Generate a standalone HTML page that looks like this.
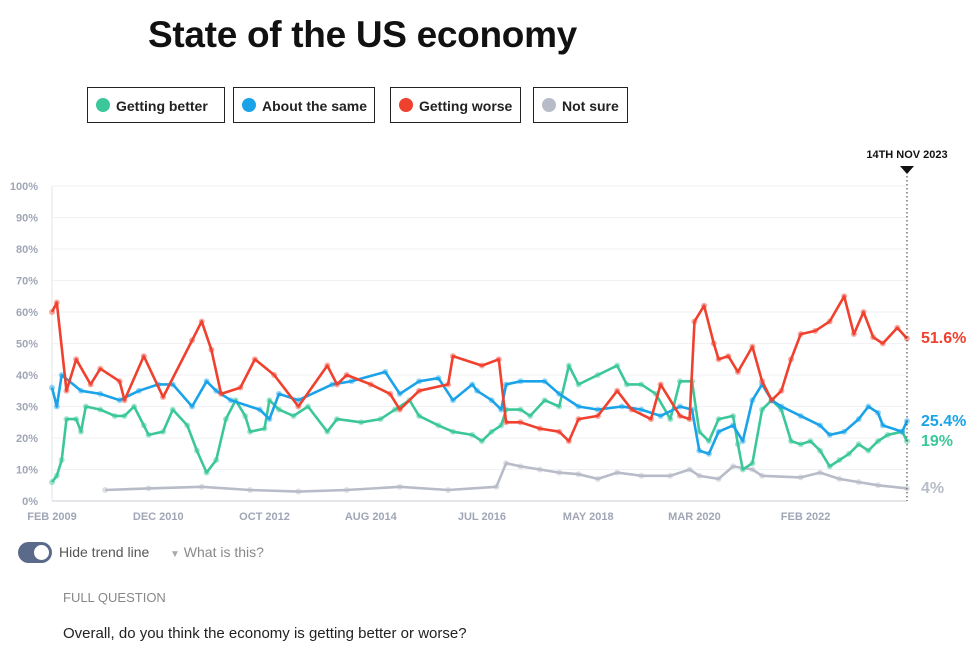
<!DOCTYPE html>
<html><head><meta charset="utf-8"><style>
body{margin:0;background:#fff;font-family:"Liberation Sans",Arial,sans-serif}
#wrap{position:relative;width:980px;height:651px;overflow:hidden}
.title{position:absolute;left:148px;top:14px;font-size:37px;font-weight:bold;color:#111;letter-spacing:-0.3px}
.leg{position:absolute;top:87px;height:36px;border:1px solid #222;box-sizing:border-box;font-size:14px;font-weight:bold;color:#222;line-height:36px;padding-left:28px}
.leg i{position:absolute;left:8px;top:10px;width:14px;height:14px;border-radius:50%}
</style></head><body>
<div id="wrap">
<div class="title">State of the US economy</div>
<div class="leg" style="left:87px;width:138px"><i style="background:#3cc79a"></i>Getting better</div>
<div class="leg" style="left:233px;width:142px"><i style="background:#1aa3e8"></i>About the same</div>
<div class="leg" style="left:390px;width:131px"><i style="background:#f0402e"></i>Getting worse</div>
<div class="leg" style="left:533px;width:95px"><i style="background:#b8bcc8"></i>Not sure</div>
<svg id="chart" width="980" height="651" style="position:absolute;left:0;top:0"></svg>
<div style="position:absolute;left:18px;top:542px;width:34px;height:21px;border-radius:11px;background:#5b6a8a"><div style="position:absolute;right:3px;top:3px;width:15px;height:15px;border-radius:50%;background:#fff"></div></div>
<div style="position:absolute;left:59px;top:544px;font-size:14px;color:#555">Hide trend line</div>
<div style="position:absolute;left:170px;top:544px;font-size:14px;color:#888"><span style="font-size:10px;color:#aaa">▼</span> What is this?</div>
<div style="position:absolute;left:63px;top:590px;font-size:13px;color:#888">FULL QUESTION</div>
<div style="position:absolute;left:63px;top:625px;font-size:15px;color:#222">Overall, do you think the economy is getting better or worse?</div>
</div>
<script>
const yTicks=[0,10,20,30,40,50,60,70,80,90,100];
const xTickMonths=[0,22,44,66,89,111,133,156];
const xTickLabels=["FEB 2009","DEC 2010","OCT 2012","AUG 2014","JUL 2016","MAY 2018","MAR 2020","FEB 2022"];
const redMonths=[0,1,3,5,8,10,14,15,19,23,29,31,33,35,39,42,46,51,57,59,61,66,70,72,76,82,83,89,92.5,94,97,101,105,107,109,113,117,120,124,126,130,132,133,135,137,138,140,142,145,147,149,151,153,155,158,161,164,166,168,170,172,175,177];
const redValues=[60,63,35,45,37,42,38,32,46,33,51,57,48,34,36,45,40,30,43,37,40,37,34,29,35,37,46,43,45,25,25,23,22,19,26,27,35,29,26,37,27,26,57,62,50,45,46,41,49,38,32,35,45,53,54,57,65,53,60,52,50,55,51.6];
const blueMonths=[0,1,2,6,10,14,18,22,25,29,32,34,37,43,45,47,51,58,62,69,72,76,80,83,87,88,91,93,94,97,102,105,109,113,118,122,126,130,132.5,134,136,138,141,143,145,147,149,151,155,159,161,164,167,169,171,172,176,177];
const blueValues=[36,30,40,35,34,32,35,37,37,30,38,35,32,29,26,34,32,37,38,41,34,38,39,32,37,35,32,29,37,38,38,34,30,29,30,29,27,30,29,16,15,22,24,19,32,37,32,30,27,24,21,22,26,30,28,24,22,25.4];
const greenMonths=[0,1,2,3,5,6,7,10,13,15,17,19,20,23,25,28,30,32,34,36,38,40,41,44,45,47,50,53,57,59,64,68,71,74,76,80,83,87,89,91,93,94,97,99,102,105,107,109,113,117,119,122,125,128,130,132.5,134,136,138,141,142,143,145,147,149,151,153,155,157,159,161,163,165,167,169,171,173,176,177];
const greenValues=[6,8,13,26,26,22,30,29,27,27,30,24,21,22,29,24,16,9,13,26,32,27,22,23,32,29,27,30,22,26,25,26,29,32,27,24,22,21,19,22,24,29,29,27,32,30,43,37,40,43,37,37,34,26,38,38,22,19,26,27,18,10,12,29,32,29,19,18,19,16,11,13,15,18,16,19,21,22,19];
const grayMonths=[11,20,31,41,51,61,72,82,92,94,97,101,105,109,113,117,122,128,132,134,138,141,145,147,155,159,163,167,171,177];
const grayValues=[3.5,4,4.5,3.5,3,3.5,4.5,3.5,4.5,12,11,10,9,8.5,7,9,8,8,10,8,7,11,10,8,7.5,9,7,6,5,4];

const svg=document.getElementById('chart');
const NS='http://www.w3.org/2000/svg';
const X0=52,X1=907,Y0=501,Y1=186,MAXM=177;
function xs(m){return X0+(X1-X0)*m/MAXM;}
function ys(v){return Y0-(Y0-Y1)*v/100;}
function mk(tag,attrs){const e=document.createElementNS(NS,tag);for(const k in attrs)e.setAttribute(k,attrs[k]);svg.appendChild(e);return e;}
yTicks.forEach(t=>{
  const g=mk('line',{x1:X0,x2:X1,y1:ys(t),y2:ys(t),stroke:t===0?'#c8ccd6':'#f1f2f5','stroke-width':1});
  
  
  const tx=mk('text',{x:38,y:ys(t)+4,'text-anchor':'end','font-size':11,'font-weight':'bold',fill:'#a0a6b6'});
  tx.textContent=t+'%';
  
  
});
const ax=mk('line',{x1:X0,x2:X0,y1:Y1,y2:Y0,stroke:'#e3e5ea'});


xTickMonths.forEach((m,i)=>{
  const tx=mk('text',{x:xs(m),y:520,'text-anchor':'middle','font-size':11,'font-weight':'bold',fill:'#a0a6b6'});
  tx.textContent=xTickLabels[i];
  
  
});
function series(ms,vs,color,name){
  for(let i=0;i<ms.length;i++){
    const c=mk('circle',{cx:xs(ms[i]),cy:ys(vs[i]),r:3,fill:color,opacity:0.45});
    
    
  }
  const p=mk('path',{d:ms.map((m,i)=>(i?'L':'M')+xs(m).toFixed(1)+' '+ys(vs[i]).toFixed(1)).join(''),fill:'none',stroke:color,'stroke-width':2.6,'stroke-linejoin':'round'});
  
  
}
series(grayMonths,grayValues,'#b8bcc8','not-sure');
series(greenMonths,greenValues,'#3cc79a','getting-better');
series(blueMonths,blueValues,'#1aa3e8','about-the-same');
series(redMonths,redValues,'#f0402e','getting-worse');
const ml=mk('line',{x1:X1,x2:X1,y1:172,y2:Y0,stroke:'#333','stroke-dasharray':'1.5,2.5'});


const tri=mk('path',{d:`M${X1-7} 166 L${X1+7} 166 L${X1} 174 Z`,fill:'#111'});


const dl=mk('text',{x:X1,y:158,'text-anchor':'middle','font-size':11,'font-weight':'bold',fill:'#111'});
dl.textContent='14TH NOV 2023';


const ends=[[redValues[redValues.length-1],'51.6%','#f0402e',343],[blueValues[blueValues.length-1],'25.4%','#1aa3e8',426],[greenValues[greenValues.length-1],'19%','#3cc79a',446],[grayValues[grayValues.length-1],'4%','#b8bcc8',493]];
ends.forEach(e=>{
  const t=mk('text',{x:921,y:e[3],'font-size':16,'font-weight':'bold',fill:e[2]});
  t.textContent=e[1];
  
  
});
</script>
</body></html>
